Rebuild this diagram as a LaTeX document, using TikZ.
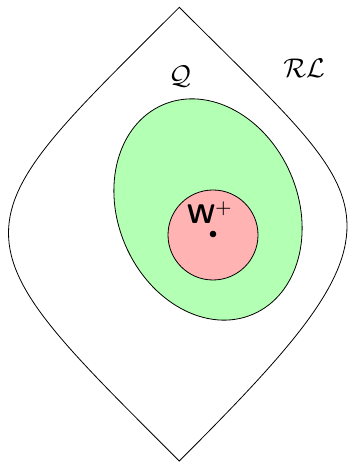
\documentclass[tikz,border=0pt]{standalone}
\usetikzlibrary{calc}
\definecolor{qgreen}{RGB}{179,255,179}
\definecolor{wpink}{RGB}{255,179,179}
\tikzset{
  outline/.style={draw=black, line width=0.8pt},
  bigtext/.style={inner sep=0pt, scale=2.7}
}
\begin{document}
\begin{tikzpicture}[x=1pt,y=1pt]
\useasboundingbox (0,0) rectangle (348,462);
\coordinate (top) at (179.3,454.7);
\coordinate (bot) at (179.3,1);
\coordinate (lft) at (8.5,229);
\coordinate (rgt) at (347,236);
\draw[outline] (top) .. controls ($(top)+(-110,-110)$) and ($(lft)+(0,60)$) .. (lft)
  .. controls ($(lft)+(0,-60)$) and ($(bot)+(-110,110)$) .. (bot)
  .. controls ($(bot)+(110,110)$) and ($(rgt)+(0,-60)$) .. (rgt)
  .. controls ($(rgt)+(0,60)$) and ($(top)+(110,-110)$) .. (top) -- cycle;
\draw[outline, fill=qgreen] (208,252.5) ellipse [x radius=90, y radius=114, rotate=23.2];
\draw[outline, fill=wpink] (213,227) circle [radius=45];
\fill (213,228) circle [radius=3.3];
\node[bigtext] (w) at (210,249) {\sffamily\bfseries W$^{+}$};
\node[bigtext] (q) at (180,385) {$\mathcal{Q}$};
\node[bigtext] (rl) at (304,394) {$\mathcal{RL}$};
\end{tikzpicture}
\end{document}
